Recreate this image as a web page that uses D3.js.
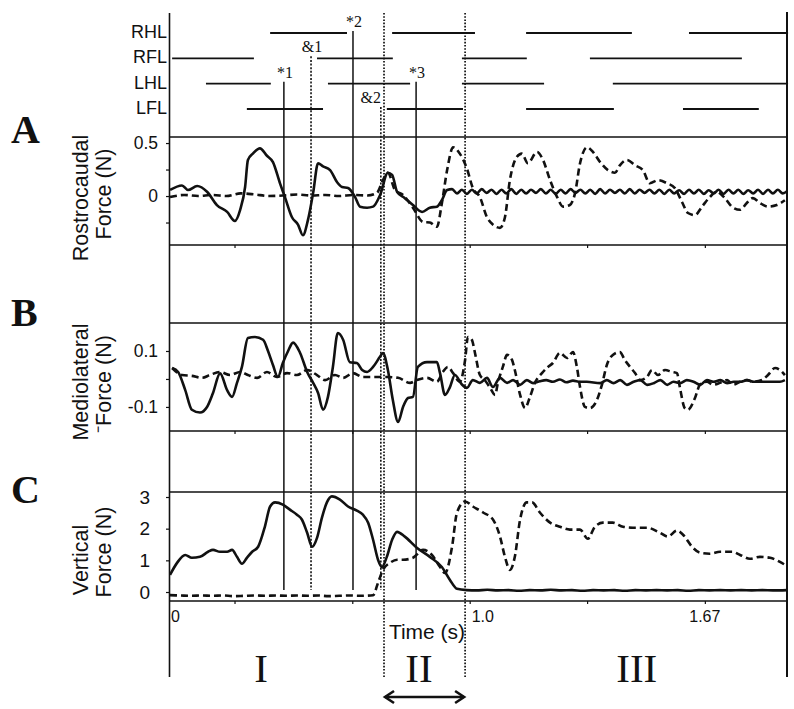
<!DOCTYPE html>
<html><head><meta charset="utf-8">
<script src="https://cdnjs.cloudflare.com/ajax/libs/d3/7.8.5/d3.min.js"></script>
<style>body{margin:0;background:#fff;} svg{display:block;}</style>
</head><body>
<svg id="chart" width="794" height="709"></svg>
<script>
// ---------------- DATA ----------------
const limbs = ["RHL", "RFL", "LHL", "LFL"];
const stanceRHL = [[0.434, 0.652], [0.780, 1.015], [1.160, 1.460], [1.622, 1.903]];
const stanceRFL = [[0.156, 0.388], [0.567, 0.782], [0.978, 1.162], [1.341, 1.772]];
const stanceLHL = [[0.252, 0.436], [0.598, 0.831], [0.978, 1.211], [1.406, 1.903]];
const stanceLFL = [[0.368, 0.584], [0.765, 0.981], [1.160, 1.409], [1.605, 1.820]];

const eventNames = ["*1", "&1", "*2", "&2", "*3"];
const eventTimes = [0.473, 0.550, 0.669, 0.748, 0.848];
const eventLimbs = ["LHL", "RFL", "RHL", "LFL", "LHL"];

const phaseBounds = [0.757, 0.987];
const phaseNames = ["I", "II", "III"];
const phaseLabelTimes = [0.408, 0.856, 1.474];

const timeTicks = [0.333, 0.667, 1.0, 1.333, 1.667];
const timeTickLabels = ["0", "1.0", "1.67"];
const timeTickLabelTimes = [0.15, 1.0, 1.667];

const rcTicks = [-0.25, 0, 0.25, 0.5];
const rcTickLabels = ["", "0", "", "0.5"];
const mlTicks = [-0.1, 0, 0.1];
const mlTickLabels = ["-0.1", "", "0.1"];
const vTicks = [0, 1, 2, 3];
const vTickLabels = ["0", "1", "2", "3"];

// Rostrocaudal force (N): [time s, force]
const rostroSolid = [[0.150,0.057],[0.184,0.10],[0.201,0.057],[0.227,0.094],[0.255,0.04],[0.283,-0.085],[0.312,-0.15],[0.334,-0.235],[0.349,-0.13],[0.363,0.085],[0.371,0.34],[0.385,0.40],[0.405,0.45],[0.425,0.38],[0.442,0.32],[0.462,0.12],[0.476,-0.01],[0.496,-0.2],[0.513,-0.27],[0.527,-0.37],[0.541,-0.23],[0.556,0.03],[0.570,0.31],[0.584,0.28],[0.604,0.245],[0.624,0.13],[0.638,0.085],[0.655,0.075],[0.675,-0.01],[0.689,-0.10],[0.709,-0.11],[0.726,-0.10],[0.746,0.01],[0.768,0.22],[0.780,0.20],[0.794,0.04],[0.816,-0.02],[0.839,-0.085],[0.865,-0.15],[0.887,-0.11],[0.907,-0.10],[0.921,-0.04],[0.936,0.057],
[0.950,0.065],[0.964,0.025],[0.978,0.060],[0.992,0.020],[1.006,0.060],[1.020,0.025],[1.034,0.065],[1.048,0.030],[1.062,0.060],[1.076,0.020],[1.090,0.060],[1.104,0.025],[1.118,0.065],[1.132,0.020],[1.146,0.060],[1.160,0.025],[1.174,0.060],[1.188,0.030],[1.202,0.065],[1.216,0.025],[1.230,0.060],[1.244,0.020],[1.258,0.060],[1.272,0.025],[1.286,0.065],[1.300,0.030],[1.314,0.060],[1.328,0.025],[1.342,0.060],[1.356,0.020],[1.370,0.065],[1.384,0.025],[1.398,0.060],[1.412,0.030],[1.426,0.060],[1.440,0.025],[1.454,0.065],[1.468,0.025],[1.482,0.060],[1.496,0.030],[1.510,0.060],[1.524,0.025],[1.538,0.060],[1.552,0.020],[1.566,0.060],[1.580,0.025],[1.594,0.055],[1.608,0.020],[1.622,0.060],[1.636,0.025],[1.650,0.060],[1.664,0.020],[1.678,0.055],[1.692,0.025],[1.706,0.060],[1.720,0.020],[1.734,0.060],[1.748,0.025],[1.762,0.060],[1.776,0.020],[1.790,0.055],[1.804,0.025],[1.818,0.060],[1.832,0.020],[1.846,0.060],[1.860,0.025],[1.874,0.060],[1.888,0.025],[1.900,0.045]];
const rostroDashed = [[0.150,-0.01],[0.190,0.01],[0.230,0.0],[0.270,0.01],[0.310,0.0],[0.350,0.025],[0.390,0.015],[0.430,0.0],[0.470,0.005],[0.510,0.015],[0.550,0.005],[0.590,0.01],[0.630,0.0],[0.670,0.01],[0.710,0.005],[0.737,0.03],[0.754,0.15],[0.768,0.22],[0.788,0.057],[0.811,0.01],[0.839,-0.11],[0.868,-0.245],[0.887,-0.25],[0.907,-0.29],[0.921,-0.07],[0.936,0.245],[0.953,0.46],[0.972,0.40],[0.992,0.26],[1.009,0.075],[1.029,-0.01],[1.049,-0.2],[1.066,-0.27],[1.086,-0.30],[1.100,-0.2],[1.114,0.15],[1.134,0.37],[1.148,0.40],[1.165,0.31],[1.191,0.415],[1.208,0.34],[1.228,0.15],[1.248,-0.01],[1.265,-0.10],[1.284,-0.085],[1.299,0.03],[1.313,0.31],[1.333,0.46],[1.350,0.415],[1.370,0.32],[1.392,0.245],[1.412,0.22],[1.426,0.29],[1.446,0.34],[1.469,0.29],[1.491,0.245],[1.511,0.12],[1.534,0.15],[1.560,0.12],[1.582,0.075],[1.602,-0.055],[1.619,-0.16],[1.639,-0.18],[1.659,-0.10],[1.681,-0.01],[1.701,0.04],[1.724,-0.02],[1.747,-0.11],[1.767,-0.13],[1.786,-0.065],[1.803,-0.02],[1.823,-0.065],[1.846,-0.10],[1.871,-0.085],[1.894,-0.04]];

// Mediolateral force (N)
const medioSolid = [[0.156,0.039],[0.173,0.025],[0.193,-0.039],[0.212,-0.11],[0.235,-0.12],[0.255,-0.10],[0.272,-0.05],[0.292,0.02],[0.312,-0.04],[0.326,-0.064],[0.340,-0.014],[0.354,0.043],[0.371,0.146],[0.391,0.15],[0.414,0.14],[0.428,0.10],[0.442,0.05],[0.456,0.007],[0.470,0.057],[0.485,0.10],[0.499,0.13],[0.519,0.093],[0.539,0.025],[0.556,-0.014],[0.570,-0.05],[0.584,-0.11],[0.598,-0.064],[0.612,0.043],[0.626,0.164],[0.641,0.14],[0.660,0.06],[0.680,0.057],[0.695,0.032],[0.709,0.025],[0.726,0.043],[0.746,0.08],[0.754,0.093],[0.768,0.032],[0.782,-0.075],[0.797,-0.154],[0.811,-0.10],[0.825,-0.068],[0.839,-0.064],[0.853,0.043],[0.879,0.06],[0.907,0.06],[0.916,0.02],[0.930,-0.057],[0.944,-0.029],[0.958,0.014],[0.978,-0.02],[0.992,-0.032],[1.009,-0.004],[1.029,-0.014],[1.049,0.004],[1.066,-0.029],[1.086,0.004],[1.106,-0.014],[1.123,-0.004],[1.143,-0.021],[1.162,-0.004],[1.180,-0.015],[1.199,-0.008],[1.217,-0.004],[1.236,-0.010],[1.256,-0.002],[1.274,-0.012],[1.293,-0.006],[1.313,-0.010],[1.332,-0.010],[1.370,-0.015],[1.389,-0.004],[1.408,-0.015],[1.427,-0.004],[1.446,-0.021],[1.465,-0.010],[1.484,-0.004],[1.503,-0.021],[1.522,-0.015],[1.541,-0.004],[1.560,-0.021],[1.578,-0.010],[1.597,-0.015],[1.616,-0.004],[1.635,-0.010],[1.654,-0.021],[1.673,-0.004],[1.692,-0.010],[1.711,-0.004],[1.730,-0.015],[1.749,-0.010],[1.768,-0.010],[1.787,-0.004],[1.806,-0.010],[1.825,-0.010],[1.844,-0.010],[1.880,-0.010],[1.894,-0.004]];
const medioDashed = [[0.156,0.039],[0.184,0.014],[0.212,0.011],[0.241,0.004],[0.263,0.014],[0.292,0.025],[0.320,0.014],[0.349,0.025],[0.371,0.014],[0.397,0.004],[0.425,0.025],[0.453,0.007],[0.482,0.021],[0.510,0.014],[0.539,0.032],[0.567,0.014],[0.590,-0.004],[0.618,0.014],[0.641,0.004],[0.669,0.021],[0.697,0.007],[0.726,0.007],[0.765,0.007],[0.797,0.004],[0.831,-0.014],[0.850,-0.004],[0.879,0.004],[0.907,-0.010],[0.924,0.025],[0.938,0.043],[0.953,0.021],[0.972,-0.010],[0.987,0.068],[0.995,0.15],[1.006,0.14],[1.015,0.093],[1.029,0.014],[1.043,-0.004],[1.058,-0.032],[1.072,-0.057],[1.080,-0.014],[1.094,0.043],[1.106,0.086],[1.120,0.068],[1.128,0.032],[1.143,-0.057],[1.157,-0.104],[1.171,-0.064],[1.185,-0.014],[1.205,0.021],[1.222,0.043],[1.236,0.057],[1.256,0.093],[1.276,0.075],[1.293,0.096],[1.304,0.043],[1.313,-0.029],[1.327,-0.10],[1.341,-0.104],[1.361,-0.075],[1.375,-0.021],[1.389,0.05],[1.406,0.086],[1.426,0.096],[1.440,0.068],[1.455,0.043],[1.469,0.021],[1.483,-0.004],[1.503,0.007],[1.517,0.032],[1.534,0.014],[1.554,0.032],[1.574,0.025],[1.588,0.021],[1.596,-0.029],[1.610,-0.104],[1.619,-0.11],[1.639,-0.068],[1.653,-0.021],[1.673,-0.010],[1.690,-0.021],[1.710,-0.014],[1.730,-0.004],[1.747,-0.021],[1.767,-0.010],[1.786,-0.004],[1.803,-0.010],[1.829,-0.004],[1.846,0.014],[1.866,0.039],[1.880,0.032],[1.894,0.014]];

// Vertical force (N)
const vertSolid = [[0.150,0.54],[0.170,0.92],[0.193,1.17],[0.212,1.08],[0.235,1.11],[0.258,1.27],[0.272,1.33],[0.292,1.27],[0.312,1.27],[0.326,1.33],[0.340,1.11],[0.354,0.89],[0.368,1.08],[0.383,1.27],[0.400,1.43],[0.419,2.06],[0.434,2.70],[0.448,2.83],[0.470,2.76],[0.490,2.60],[0.510,2.44],[0.524,2.29],[0.539,1.87],[0.553,1.43],[0.567,1.71],[0.581,2.35],[0.595,2.83],[0.609,3.02],[0.632,2.92],[0.655,2.70],[0.680,2.57],[0.697,2.44],[0.712,2.19],[0.726,1.65],[0.740,1.02],[0.751,0.79],[0.765,1.11],[0.780,1.65],[0.794,1.90],[0.816,1.75],[0.850,1.40],[0.887,1.11],[0.921,0.79],[0.944,0.38],[0.964,0.10],[0.992,0.06],[1.02,0.05],[1.05,0.07],[1.08,0.05],[1.11,0.06],[1.14,0.04],[1.17,0.06],[1.20,0.05],[1.23,0.07],[1.26,0.05],[1.29,0.06],[1.32,0.04],[1.35,0.06],[1.38,0.05],[1.41,0.06],[1.44,0.04],[1.47,0.06],[1.50,0.05],[1.53,0.06],[1.56,0.05],[1.59,0.06],[1.62,0.04],[1.65,0.06],[1.68,0.05],[1.71,0.06],[1.74,0.05],[1.77,0.06],[1.80,0.05],[1.83,0.06],[1.86,0.05],[1.90,0.06]];
const vertDashed = [[0.150,-0.10],[0.180,-0.11],[0.210,-0.12],[0.240,-0.11],[0.270,-0.12],[0.300,-0.11],[0.330,-0.13],[0.360,-0.12],[0.390,-0.11],[0.420,-0.12],[0.450,-0.11],[0.480,-0.12],[0.510,-0.11],[0.540,-0.12],[0.570,-0.11],[0.600,-0.13],[0.630,-0.12],[0.660,-0.11],[0.690,-0.12],[0.726,-0.10],[0.740,0.29],[0.754,0.70],[0.774,0.92],[0.794,1.02],[0.811,1.02],[0.839,1.08],[0.868,1.33],[0.893,1.17],[0.916,0.79],[0.930,0.60],[0.950,1.43],[0.964,2.51],[0.987,2.86],[1.009,2.70],[1.038,2.51],[1.066,2.29],[1.086,1.75],[1.100,1.11],[1.114,0.70],[1.128,1.11],[1.143,2.29],[1.162,2.83],[1.177,2.83],[1.199,2.51],[1.228,2.19],[1.256,2.06],[1.284,1.97],[1.313,1.97],[1.335,1.68],[1.355,2.06],[1.378,2.19],[1.406,2.19],[1.435,2.06],[1.463,2.03],[1.503,2.03],[1.540,1.87],[1.562,1.75],[1.588,1.94],[1.605,1.81],[1.633,1.40],[1.653,1.24],[1.681,1.21],[1.710,1.27],[1.744,1.27],[1.767,1.17],[1.795,1.05],[1.823,1.11],[1.852,1.08],[1.880,0.95],[1.894,0.86]];

// ---------------- DRAWING ----------------
const svg = d3.select("#chart");
const SANS = "'Liberation Sans', Arial, sans-serif";
const SERIF = "'Liberation Serif', 'Times New Roman', serif";

const x = d3.scaleLinear().domain([0.15, 1.9]).range([170, 787]);
const rowY = d3.scalePoint().domain(limbs).range([33, 109]);
const stances = {RHL: stanceRHL, RFL: stanceRFL, LHL: stanceLHL, LFL: stanceLFL};

const panels = [
  {letter: "A", top: 137, bottom: 245, domain: [-0.462, 0.557], ticks: rcTicks, labels: rcTickLabels,
   solid: rostroSolid, dashed: rostroDashed, title: ["Rostrocaudal", "Force (N)"], titleY: [198, 194],
   letterY: 143, tickFont: 17.5, tickPad: 8},
  {letter: "B", top: 323, bottom: 431, domain: [-0.186, 0.2], ticks: mlTicks, labels: mlTickLabels,
   solid: medioSolid, dashed: medioDashed, title: ["Mediolateral", "\u207BForce (N)"], titleY: [382, 384],
   letterY: 326, tickFont: 17.5, tickPad: 8},
  {letter: "C", top: 492, bottom: 601, domain: [-0.284, 3.158], ticks: vTicks, labels: vTickLabels,
   solid: vertSolid, dashed: vertDashed, title: ["Vertical", "Force (N)"], titleY: [560, 552],
   letterY: 503, tickFont: 19, tickPad: 16}
];
panels.forEach(p => { p.y = d3.scaleLinear().domain(p.domain).range([p.bottom, p.top]); });
const yC = panels[2].y;

// Frame verticals
svg.append("line").attr("x1", 169.5).attr("x2", 169.5).attr("y1", 13).attr("y2", 677)
  .attr("stroke", "#111").attr("stroke-width", 1.6);
svg.append("line").attr("x1", x(1.9)).attr("x2", x(1.9)).attr("y1", 12).attr("y2", 677)
  .attr("stroke", "#111").attr("stroke-width", 2);

// Gait diagram
limbs.forEach(l => {
  svg.append("text").attr("x", 167).attr("y", rowY(l) + 5).attr("text-anchor", "end")
    .attr("font-family", SANS).attr("font-size", 18).attr("fill", "#111").text(l);
  svg.selectAll(null).data(stances[l]).enter().append("line")
    .attr("x1", d => x(d[0])).attr("x2", d => x(d[1]))
    .attr("y1", rowY(l)).attr("y2", rowY(l))
    .attr("stroke", "#111").attr("stroke-width", 1.8);
});

// Panels
panels.forEach(p => {
  const g = svg.append("g");
  [p.top, p.bottom].forEach(yy => {
    g.append("line").attr("x1", 169).attr("x2", x(1.9)).attr("y1", yy).attr("y2", yy)
      .attr("stroke", "#111").attr("stroke-width", 1.4);
  });
  const ya = g.append("g").attr("transform", "translate(170,0)")
    .call(d3.axisLeft(p.y).tickValues(p.ticks).tickSize(4).tickPadding(p.tickPad)
      .tickFormat((d, i) => p.labels[i]));
  ya.select(".domain").remove();
  ya.selectAll("line").attr("stroke", "#111").attr("stroke-width", 1.2);
  ya.selectAll("text").attr("font-family", SANS).attr("font-size", p.tickFont).attr("fill", "#111");
  const xa = g.append("g").attr("transform", `translate(0,${p.bottom})`)
    .call(d3.axisBottom(x).tickValues(timeTicks).tickSize(3).tickFormat(""));
  xa.select(".domain").remove();
  xa.selectAll("line").attr("stroke", "#111").attr("stroke-width", 1.2);
  svg.append("text").attr("x", 11).attr("y", p.letterY).attr("font-family", SERIF)
    .attr("font-weight", "bold").attr("font-size", 40).attr("fill", "#111").text(p.letter);
  p.title.forEach((t, i) => {
    const bx = i === 0 ? 88 : 111;
    svg.append("text").attr("transform", `translate(${bx},${p.titleY[i]}) rotate(-90)`)
      .attr("text-anchor", "middle").attr("font-family", SANS).attr("font-size", 21.5)
      .attr("fill", "#111").text(t);
  });
});

// Event lines
eventNames.forEach((n, i) => {
  const xx = x(eventTimes[i]);
  const y0 = rowY(eventLimbs[i]);
  svg.append("line").attr("x1", xx).attr("x2", xx).attr("y1", y0 - 2).attr("y2", yC(0.06))
    .attr("stroke", "#111").attr("stroke-width", n[0] === "*" ? 1.5 : 1.6)
    .attr("stroke-dasharray", n[0] === "*" ? null : "2,1.6");
  svg.append("text").attr("x", xx + (n === "&2" ? -10 : 1)).attr("y", y0 - 6)
    .attr("text-anchor", "middle").attr("font-family", SERIF).attr("font-size", 16)
    .attr("fill", "#111").text(n);
});

// Phase boundaries
phaseBounds.forEach(t => {
  svg.append("line").attr("x1", x(t)).attr("x2", x(t)).attr("y1", 13).attr("y2", 677)
    .attr("stroke", "#111").attr("stroke-width", 1.7).attr("stroke-dasharray", "1.6,1.6");
});

// Curves
panels.forEach(p => {
  const line = d3.line().x(d => x(d[0])).y(d => p.y(d[1])).curve(d3.curveMonotoneX);
  svg.append("path").datum(p.dashed).attr("d", line).attr("fill", "none")
    .attr("stroke", "#111").attr("stroke-width", 2.6).attr("stroke-dasharray", "7,4");
  svg.append("path").datum(p.solid).attr("d", line).attr("fill", "none")
    .attr("stroke", "#111").attr("stroke-width", 2.6).attr("stroke-linejoin", "round");
});

// Time tick labels
timeTickLabels.forEach((lab, i) => {
  const anchor = i === 2 ? "middle" : "start";
  const dx = i === 0 ? 1 : (i === 1 ? 2 : 0);
  svg.append("text").attr("x", x(timeTickLabelTimes[i]) + dx).attr("y", 622)
    .attr("text-anchor", anchor).attr("font-family", SANS).attr("font-size", 16)
    .attr("fill", "#111").text(lab);
});
svg.append("text").attr("x", 427).attr("y", 639).attr("text-anchor", "middle")
  .attr("font-family", SANS).attr("font-size", 21).attr("fill", "#111").text("Time (s)");

// Phase labels
phaseNames.forEach((n, i) => {
  svg.append("text").attr("x", x(phaseLabelTimes[i])).attr("y", 682).attr("text-anchor", "middle")
    .attr("font-family", SERIF).attr("font-size", 41).attr("fill", "#111").text(n);
});

// Double arrow for phase II
const ax1 = x(phaseBounds[0]), ax2 = x(phaseBounds[1]), ay = 697;
svg.append("line").attr("x1", ax1 + 1).attr("x2", ax2 - 1).attr("y1", ay).attr("y2", ay)
  .attr("stroke", "#111").attr("stroke-width", 2.6);
svg.append("path").attr("d", `M${ax1 + 10},${ay - 6} L${ax1 + 1},${ay} L${ax1 + 10},${ay + 6}`)
  .attr("fill", "none").attr("stroke", "#111").attr("stroke-width", 2.6);
svg.append("path").attr("d", `M${ax2 - 10},${ay - 6} L${ax2 - 1},${ay} L${ax2 - 10},${ay + 6}`)
  .attr("fill", "none").attr("stroke", "#111").attr("stroke-width", 2.6);
</script>
</body></html>
